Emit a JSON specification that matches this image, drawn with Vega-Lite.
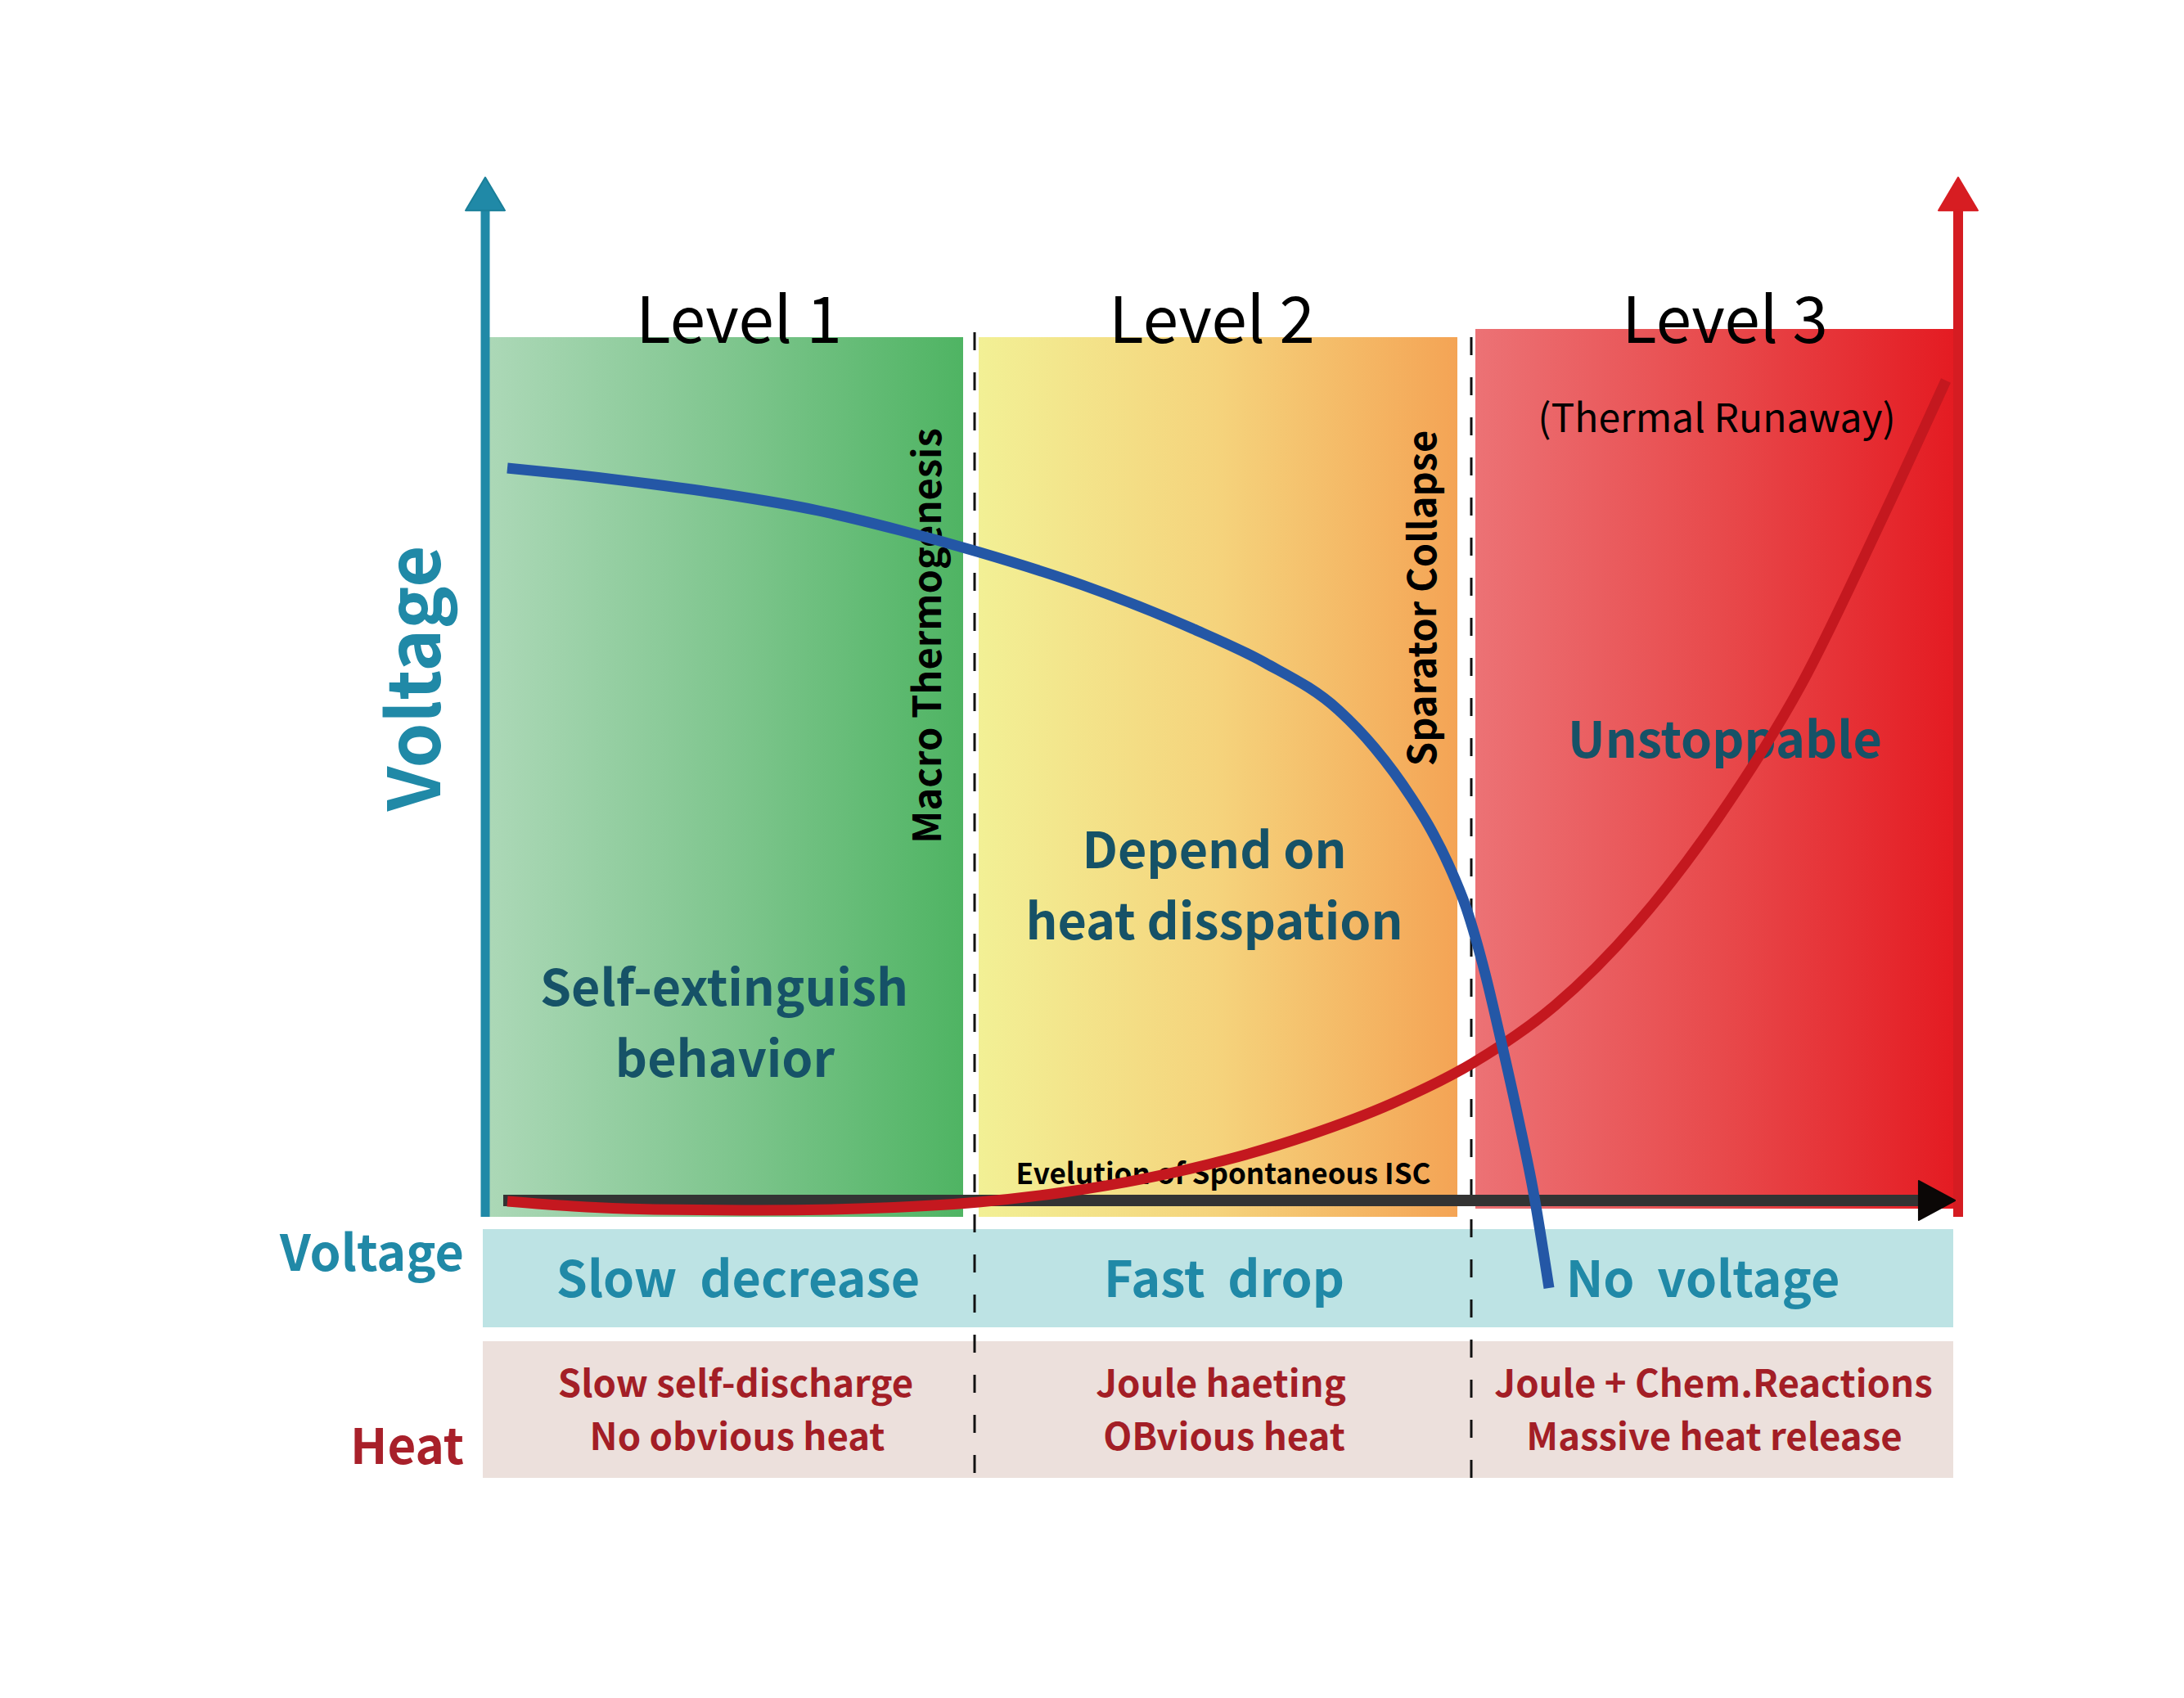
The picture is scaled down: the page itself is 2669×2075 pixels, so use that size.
{
  "$schema": "https://vega.github.io/schema/vega-lite/v6.json",
  "width": 2669,
  "height": 2075,
  "autosize": {"type": "fit", "contains": "padding"},
  "padding": 0,
  "background": "#ffffff",
  "config": {"view": {"stroke": null}, "text": {"font": "Noto Sans CJK SC"}},
  "datasets": {
    "zones": [
      {"zone": "Level 1", "x": 596, "x2": 1177, "y": 412, "y2": 1487},
      {"zone": "Level 2", "x": 1196, "x2": 1781, "y": 412, "y2": 1487},
      {"zone": "Level 3", "x": 1803, "x2": 2397, "y": 402, "y2": 1477}
    ],
    "rows": [
      {"row": "Voltage", "x": 590, "x2": 2387, "y": 1502, "y2": 1622},
      {"row": "Heat", "x": 590, "x2": 2387, "y": 1639, "y2": 1806}
    ],
    "dividers": [
      {"event": "Macro Thermogenesis", "x": 1191, "y": 406, "y2": 1806},
      {"event": "Sparator Collapse", "x": 1798, "y": 412, "y2": 1810}
    ],
    "axes": [
      {"axis": "Voltage", "x": 593, "y": 258, "y2": 1487},
      {"axis": "Heat", "x": 2393, "y": 258, "y2": 1487}
    ],
    "isc": [{"axis": "ISC", "x": 615, "x2": 2352, "y": 1467}],
    "heads": [
      {"axis": "Voltage", "x": 593, "y": 237},
      {"axis": "Heat", "x": 2393, "y": 237},
      {"axis": "ISC", "x": 2367, "y": 1467}
    ],
    "levels": [
      {"text": "Level 1", "x": 903, "y": 419},
      {"text": "Level 2", "x": 1481, "y": 419},
      {"text": "Level 3", "x": 2108, "y": 419}
    ],
    "subtitle": [{"text": "(Thermal Runaway)", "x": 2098, "y": 528}],
    "behaviors": [
      {"text": "Self-extinguish", "x": 885, "y": 1229},
      {"text": "behavior", "x": 886, "y": 1316},
      {"text": "Depend on", "x": 1484, "y": 1061},
      {"text": "heat disspation", "x": 1484, "y": 1148},
      {"text": "Unstoppable", "x": 2108, "y": 926}
    ],
    "events": [
      {"text": "Macro Thermogenesis", "x": 1150, "y": 777},
      {"text": "Sparator Collapse", "x": 1755, "y": 731}
    ],
    "ylabel": [{"text": "Voltage", "x": 538, "y": 829}],
    "isclabel": [{"text": "Evelution of Spontaneous ISC", "x": 1495, "y": 1447}],
    "rowlabels": [
      {"row": "Voltage", "text": "Voltage", "x": 567, "y": 1553},
      {"row": "Heat", "text": "Heat", "x": 567, "y": 1789}
    ],
    "vtexts": [
      {"text": "Slow \u00a0decrease", "x": 902, "y": 1585},
      {"text": "Fast \u00a0drop", "x": 1496, "y": 1585},
      {"text": "No \u00a0voltage", "x": 2081, "y": 1585}
    ],
    "htexts": [
      {"text": "Slow self-discharge", "x": 899, "y": 1707},
      {"text": "No obvious heat", "x": 901, "y": 1772},
      {"text": "Joule haeting", "x": 1492, "y": 1707},
      {"text": "OBvious heat", "x": 1496, "y": 1772},
      {"text": "Joule + Chem.Reactions", "x": 2094, "y": 1707},
      {"text": "Massive heat release", "x": 2095, "y": 1772}
    ],
    "voltage_curve": [
      {"x": 620, "y": 572}, {"x": 700, "y": 580}, {"x": 800, "y": 592}, {"x": 886, "y": 604},
      {"x": 1000, "y": 624}, {"x": 1100, "y": 648}, {"x": 1194, "y": 674}, {"x": 1323, "y": 715},
      {"x": 1457, "y": 768}, {"x": 1546, "y": 810}, {"x": 1636, "y": 868}, {"x": 1680, "y": 914},
      {"x": 1725, "y": 975}, {"x": 1746, "y": 1009}, {"x": 1770, "y": 1056}, {"x": 1792, "y": 1110},
      {"x": 1815, "y": 1190}, {"x": 1833, "y": 1266}, {"x": 1856, "y": 1369}, {"x": 1874, "y": 1457},
      {"x": 1893, "y": 1574}
    ],
    "heat_curve": [
      {"x": 620, "y": 1468}, {"x": 700, "y": 1474}, {"x": 800, "y": 1478}, {"x": 925, "y": 1479},
      {"x": 1050, "y": 1477}, {"x": 1196, "y": 1469}, {"x": 1300, "y": 1457}, {"x": 1400, "y": 1440},
      {"x": 1500, "y": 1417}, {"x": 1600, "y": 1387}, {"x": 1700, "y": 1349}, {"x": 1800, "y": 1299},
      {"x": 1900, "y": 1229}, {"x": 2000, "y": 1129}, {"x": 2100, "y": 999}, {"x": 2200, "y": 839},
      {"x": 2300, "y": 634}, {"x": 2378, "y": 465}
    ]
  },
  "encoding": {
    "x": {"field": "x", "type": "quantitative", "scale": {"domain": [0, 2669], "nice": false, "zero": false}, "axis": null},
    "y": {"field": "y", "type": "quantitative", "scale": {"domain": [0, 2075], "nice": false, "zero": false, "reverse": true}, "axis": null}
  },
  "layer": [
    {
      "data": {"name": "zones"},
      "transform": [{"filter": "datum.zone === 'Level 1'"}],
      "mark": {"type": "rect", "color": {"gradient": "linear", "x1": 0, "y1": 0, "x2": 1, "y2": 0,
        "stops": [{"offset": 0, "color": "#acd8b7"}, {"offset": 0.5, "color": "#80c68f"}, {"offset": 1, "color": "#4fb463"}]}},
      "encoding": {"x2": {"field": "x2"}, "y2": {"field": "y2"}}
    },
    {
      "data": {"name": "zones"},
      "transform": [{"filter": "datum.zone === 'Level 2'"}],
      "mark": {"type": "rect", "color": {"gradient": "linear", "x1": 0, "y1": 0, "x2": 1, "y2": 0,
        "stops": [{"offset": 0, "color": "#f2f095"}, {"offset": 0.5, "color": "#f5d37c"}, {"offset": 1, "color": "#f4a455"}]}},
      "encoding": {"x2": {"field": "x2"}, "y2": {"field": "y2"}}
    },
    {
      "data": {"name": "zones"},
      "transform": [{"filter": "datum.zone === 'Level 3'"}],
      "mark": {"type": "rect", "color": {"gradient": "linear", "x1": 0, "y1": 0, "x2": 1, "y2": 0,
        "stops": [{"offset": 0, "color": "#ec7275"}, {"offset": 0.5, "color": "#e84a4c"}, {"offset": 1, "color": "#e41a21"}]}},
      "encoding": {"x2": {"field": "x2"}, "y2": {"field": "y2"}}
    },
    {
      "data": {"name": "rows"},
      "transform": [{"filter": "datum.row === 'Voltage'"}],
      "mark": {"type": "rect", "color": "#bde3e4"},
      "encoding": {"x2": {"field": "x2"}, "y2": {"field": "y2"}}
    },
    {
      "data": {"name": "rows"},
      "transform": [{"filter": "datum.row === 'Heat'"}],
      "mark": {"type": "rect", "color": "#ece0dc"},
      "encoding": {"x2": {"field": "x2"}, "y2": {"field": "y2"}}
    },
    {
      "data": {"name": "dividers"},
      "mark": {"type": "rule", "color": "#111111", "strokeWidth": 3, "strokeDash": [22, 27]},
      "encoding": {"y2": {"field": "y2"}}
    },
    {
      "data": {"name": "axes"},
      "transform": [{"filter": "datum.axis === 'Voltage'"}],
      "mark": {"type": "rule", "color": "#2089a7", "strokeWidth": 11},
      "encoding": {"y2": {"field": "y2"}}
    },
    {
      "data": {"name": "axes"},
      "transform": [{"filter": "datum.axis === 'Heat'"}],
      "mark": {"type": "rule", "color": "#d51c22", "strokeWidth": 12},
      "encoding": {"y2": {"field": "y2"}}
    },
    {
      "data": {"name": "isc"},
      "mark": {"type": "rule", "color": "#333333", "strokeWidth": 14},
      "encoding": {"x2": {"field": "x2"}}
    },
    {
      "data": {"name": "levels"},
      "mark": {"type": "text", "fontSize": 78, "color": "#000000", "align": "center", "baseline": "alphabetic"},
      "encoding": {"text": {"field": "text"}}
    },
    {
      "data": {"name": "subtitle"},
      "mark": {"type": "text", "fontSize": 48, "color": "#000000", "align": "center", "baseline": "alphabetic"},
      "encoding": {"text": {"field": "text"}}
    },
    {
      "data": {"name": "behaviors"},
      "mark": {"type": "text", "fontSize": 61, "fontWeight": "bold", "color": "#165267", "align": "center", "baseline": "alphabetic"},
      "encoding": {"text": {"field": "text"}}
    },
    {
      "data": {"name": "events"},
      "mark": {"type": "text", "fontSize": 47, "fontWeight": "bold", "color": "#000000", "angle": 270, "align": "center", "baseline": "alphabetic"},
      "encoding": {"text": {"field": "text"}}
    },
    {
      "data": {"name": "ylabel"},
      "mark": {"type": "text", "fontSize": 88, "fontWeight": "bold", "color": "#2089a7", "angle": 270, "align": "center", "baseline": "alphabetic"},
      "encoding": {"text": {"field": "text"}}
    },
    {
      "data": {"name": "isclabel"},
      "mark": {"type": "text", "fontSize": 35, "fontWeight": "bold", "color": "#000000", "align": "center", "baseline": "alphabetic"},
      "encoding": {"text": {"field": "text"}}
    },
    {
      "data": {"name": "rowlabels"},
      "transform": [{"filter": "datum.row === 'Voltage'"}],
      "mark": {"type": "text", "fontSize": 61, "fontWeight": "bold", "color": "#2089a7", "align": "right", "baseline": "alphabetic"},
      "encoding": {"text": {"field": "text"}}
    },
    {
      "data": {"name": "rowlabels"},
      "transform": [{"filter": "datum.row === 'Heat'"}],
      "mark": {"type": "text", "fontSize": 60, "fontWeight": "bold", "color": "#a8202a", "align": "right", "baseline": "alphabetic"},
      "encoding": {"text": {"field": "text"}}
    },
    {
      "data": {"name": "vtexts"},
      "mark": {"type": "text", "fontSize": 61, "fontWeight": "bold", "color": "#2089a7", "align": "center", "baseline": "alphabetic"},
      "encoding": {"text": {"field": "text"}}
    },
    {
      "data": {"name": "htexts"},
      "mark": {"type": "text", "fontSize": 45.5, "fontWeight": "bold", "color": "#a31e26", "align": "center", "baseline": "alphabetic"},
      "encoding": {"text": {"field": "text"}}
    },
    {
      "data": {"name": "heat_curve"},
      "mark": {"type": "line", "interpolate": "monotone", "color": "#c4181f", "strokeWidth": 13, "strokeCap": "butt"}
    },
    {
      "data": {"name": "voltage_curve"},
      "mark": {"type": "line", "interpolate": "monotone", "color": "#2457a6", "strokeWidth": 13, "strokeCap": "butt"}
    },
    {
      "data": {"name": "heads"},
      "transform": [{"filter": "datum.axis === 'Voltage'"}],
      "mark": {"type": "point", "shape": "M-1,0.84L0,-0.84L1,0.84Z", "size": 2300, "filled": true, "opacity": 1, "color": "#2089a7", "stroke": "#1a7f99", "strokeWidth": 2, "strokeJoin": "round"}
    },
    {
      "data": {"name": "heads"},
      "transform": [{"filter": "datum.axis === 'Heat'"}],
      "mark": {"type": "point", "shape": "M-1,0.84L0,-0.84L1,0.84Z", "size": 2300, "filled": true, "opacity": 1, "color": "#d71d22", "stroke": "#d71d22", "strokeWidth": 2, "strokeJoin": "round"}
    },
    {
      "data": {"name": "heads"},
      "transform": [{"filter": "datum.axis === 'ISC'"}],
      "mark": {"type": "point", "shape": "M-0.92,-1L0.92,0L-0.92,1Z", "size": 2300, "filled": true, "opacity": 1, "color": "#0b0706", "stroke": "#0b0706", "strokeWidth": 2, "strokeJoin": "round"}
    }
  ]
}
